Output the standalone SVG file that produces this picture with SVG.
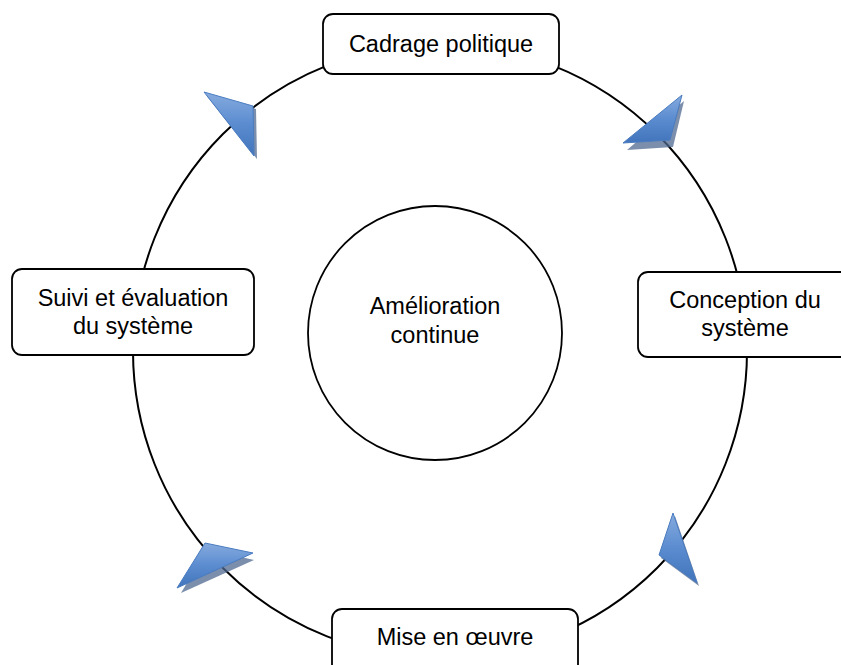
<svg xmlns="http://www.w3.org/2000/svg" width="841" height="665" viewBox="0 0 841 665">
<defs>
<linearGradient id="ag" x1="0" y1="0" x2="0" y2="1">
<stop offset="0" stop-color="#86abde"/>
<stop offset="0.5" stop-color="#5b8cd0"/>
<stop offset="1" stop-color="#4174bb"/>
</linearGradient>
<style>
.ring{fill:none;stroke:#000;stroke-width:2}
.box{fill:#fff;stroke:#000;stroke-width:1.8}
.lbl{font-family:"Liberation Sans",Arial,sans-serif;font-size:23.5px;fill:#000;text-anchor:middle}
.arr{fill:url(#ag);stroke:#4a7cc0;stroke-width:1;stroke-linejoin:round}
.sh{fill:#4f6890;opacity:0.75}
</style>
</defs>
<rect width="841" height="665" fill="#fff"/>
<g id="connectors">
<circle class="ring" cx="440" cy="351" r="307"/>
<g id="arrow-tl">
<polygon class="sh" points="206,95 256,109 257,159"/>
<polygon class="arr" points="204,92 253,106 254,156"/>
</g>
<g id="arrow-tr">
<polygon class="sh" points="684,101 627,150 673,147"/>
<polygon class="arr" points="682,95 623,143 670,140"/>
</g>
<g id="arrow-br">
<polygon class="sh" points="675,516 661,558 699,586"/>
<polygon class="arr" points="673,513 659,555 697,583"/>
</g>
<g id="arrow-bl">
<polygon class="sh" points="207,549 254,560 181,593"/>
<polygon class="arr" points="205,543 253,553 177,588"/>
</g>
</g>
<g id="node-center">
<circle cx="435" cy="333" r="127" fill="#fff" stroke="#000" stroke-width="1.8"/>
<text class="lbl" x="435" y="314">Amélioration</text>
<text class="lbl" x="435" y="343">continue</text>
</g>
<g id="node-cadrage">
<rect class="box" x="323" y="14" width="236" height="60" rx="10"/>
<text class="lbl" x="441" y="52">Cadrage politique</text>
</g>
<g id="node-conception">
<rect class="box" x="638" y="272" width="220" height="85" rx="10"/>
<text class="lbl" x="745" y="308">Conception du</text>
<text class="lbl" x="745" y="336">système</text>
</g>
<g id="node-mise">
<rect class="box" x="332" y="609" width="246" height="70" rx="10"/>
<text class="lbl" x="455" y="645">Mise en œuvre</text>
</g>
<g id="node-suivi">
<rect class="box" x="12" y="269" width="242" height="86" rx="10"/>
<text class="lbl" x="133" y="306">Suivi et évaluation</text>
<text class="lbl" x="133" y="334">du système</text>
</g>
</svg>
